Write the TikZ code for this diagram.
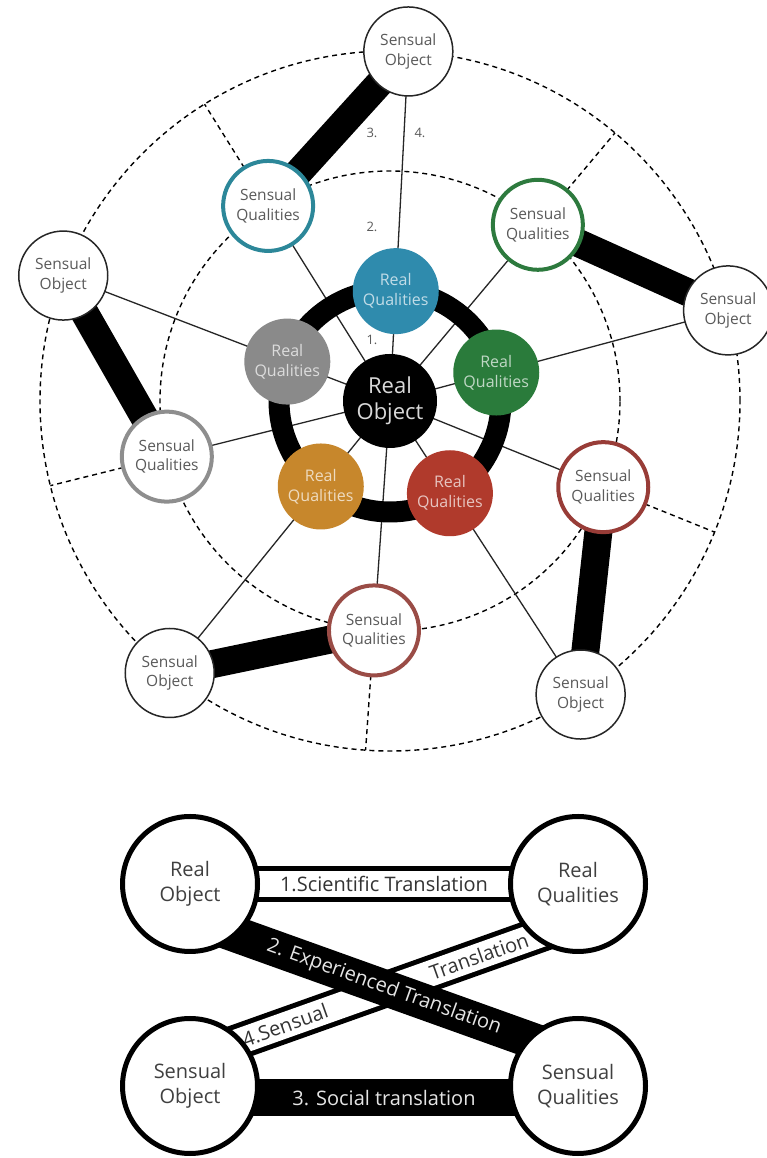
\documentclass[tikz,border=0pt]{standalone}
\usepackage{fontspec}
\setmainfont{Open Sans}
\usetikzlibrary{backgrounds}

\definecolor{rqblue}{HTML}{2F8BAD}
\definecolor{rqgray}{HTML}{8A8A8A}
\definecolor{rqorange}{HTML}{C7872C}
\definecolor{rqred}{HTML}{B03A2C}
\definecolor{rqgreen}{HTML}{2A7B3B}
\definecolor{sqteal}{HTML}{2C8799}
\definecolor{sqgray}{HTML}{8E8E8E}
\definecolor{sqbrown}{HTML}{9A4C46}
\definecolor{sqred}{HTML}{983C37}
\definecolor{sqgreen}{HTML}{2D7A3E}
\definecolor{labelgray}{HTML}{5A5A5A}

\begin{document}
\begin{tikzpicture}[x=1pt, y=1pt,
  real object/.style={circle, fill=black, minimum size=94pt, inner sep=0pt,
    align=center, text=white!85!black, font=\fontsize{22}{26}\selectfont},
  real quality/.style={circle, fill=#1, minimum size=86pt, inner sep=0pt,
    align=center, text=white!70!#1, font=\fontsize{16}{20}\selectfont},
  sensual quality/.style={circle, draw=#1, line width=4pt, fill=white,
    minimum size=90pt, inner sep=0pt, align=center, text=labelgray,
    font=\fontsize{15.5}{19.5}\selectfont},
  sensual object/.style={circle, draw=black!85, line width=1.5pt, fill=white,
    minimum size=89pt, inner sep=0pt, align=center, text=labelgray,
    font=\fontsize{15.5}{19.5}\selectfont},
  ring line/.style={dashed, dash pattern=on 5pt off 4pt, line width=1.4pt},
  spoke/.style={line width=1.3pt, black!85},
  number/.style={text=labelgray, font=\fontsize{13}{15}\selectfont},
  big circle/.style={circle, draw=black, line width=5pt, fill=white,
    minimum size=135pt, inner sep=0pt, align=center, text=black!75,
    font=\fontsize{20}{25}\selectfont},
  band text/.style={font=\fontsize{20}{24}\selectfont, inner sep=0pt},
]

\useasboundingbox (0,0) rectangle (766,1158);
\begin{pgfonlayer}{background}
  \fill[white] (0,0) rectangle (766,1158);
\end{pgfonlayer}

% the "350", "230" and "110" magic numbers are the radii of the three rings
\begin{scope}[shift={(390,757)}]
  \node[real object] (ro) at (0,0) {Real\\Object};
  \foreach \k/\rqcol/\sqcol in {1/rqblue/sqteal, 2/rqgray/sqgray,
      3/rqorange/sqbrown, 4/rqred/sqred, 5/rqgreen/sqgreen} {
    \pgfmathsetmacro\angR{15+72*\k} % angle of the real qualities
    \pgfmathsetmacro\angS{\angR+35} % sensual qualities come a bit later
    \node[real quality=\rqcol] (rq\k) at (\angR:110) {Real\\Qualities};
    \node[sensual quality=\sqcol] (sq\k) at (\angS:230) {Sensual\\Qualities};
    \node[sensual object] (so\k) at (\angR:350) {Sensual\\Object};
  }
  \node[number] (n1) at (-18,61) {1.};
  \node[number] (n2) at (-18,174) {2.};
  \node[number] (n3) at (-18,268) {3.};
  \node[number] (n4) at (30,268) {4.};

  \begin{pgfonlayer}{background}
    \draw[ring line] (ro.center) circle (230pt);
    \draw[ring line] (ro.center) circle (350pt);
    \foreach \k in {1,...,5} {
      \pgfmathsetmacro\angS{50+72*\k}
      \draw[ring line] (sq\k.center) -- (\angS:350);
      \draw[spoke] (ro.center) -- (so\k.center);
      \draw[spoke] (ro.center) -- (sq\k.center);
    }
    \draw[line width=21pt] (ro.center) circle (111pt);
    \foreach \k in {1,...,5}
      \draw[line width=28pt] (sq\k.center) -- (so\k.center);
  \end{pgfonlayer}
\end{scope}

% the four translations below
\node[big circle] (realobj) at (190,274) {Real\\Object};
\node[big circle] (realqual) at (578,274) {Real\\Qualities};
\node[big circle] (sensobj) at (190,72) {Sensual\\Object};
\node[big circle] (sensqual) at (578,72) {Sensual\\Qualities};

\begin{pgfonlayer}{background}
  \draw[line width=36pt] (realobj.center) -- (realqual.center);
  \draw[line width=26pt, white] (realobj.center) -- (realqual.center)
    node[midway, band text, text=black!80] {1.Scientific Translation};
  \draw[line width=37pt] ([yshift=-12pt]sensobj.center) -- ([yshift=-12pt]sensqual.center)
    node[midway, band text, text=white!90!black] {3. Social translation};
  \draw[line width=36pt] ([yshift=27pt]sensobj.center) -- ([yshift=-37pt]realqual.center);
  \draw[line width=26pt, white] ([yshift=27pt]sensobj.center) -- ([yshift=-37pt]realqual.center)
    node[pos=0.245, sloped, band text, text=black!80] {4.Sensual}
    node[pos=0.745, sloped, band text, text=black!80] {Translation};
  \draw[line width=36pt] ([yshift=-34pt]realobj.center) -- ([yshift=29pt]sensqual.center)
    node[midway, sloped, band text, text=white!90!black] {2. Experienced Translation};
\end{pgfonlayer}
\end{tikzpicture}
\end{document}
